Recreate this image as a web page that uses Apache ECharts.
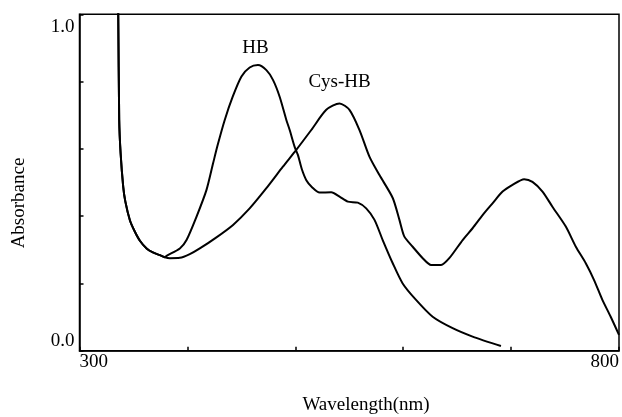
<!DOCTYPE html>
<html>
<head>
<meta charset="utf-8">
<script src="https://cdn.jsdelivr.net/npm/echarts@6/dist/echarts.min.js"></script>
<style>
html,body{margin:0;padding:0;background:#fff;}
#chart{width:622px;height:417px;}
</style>
</head>
<body>
<div id="chart"></div>
<script>
// Wavelength (nm) and absorbance values
const hbWave = [335.5,335.9,336.8,338.1,340.5,342.5,346.7,351.0,356.0,362.2,368.0,374.5,379.1,380.7,393.0,399.2,408.4,417.7,423.8,428.1,434.6,442.0,450.1,457.7,465.4,473.2,479.3,485.5,491.7,494.8,499.4,502.4,506.0,510.2,515.5,522.5,533.3,541.0,548.7,557.9,565.7,573.4,581.0,590.3,599.5,611.9,627.3,645.8,664.3,690.6];
const hbAbs  = [1.05,1.000,0.686,0.587,0.488,0.443,0.388,0.356,0.327,0.304,0.292,0.284,0.278,0.282,0.304,0.329,0.398,0.478,0.557,0.612,0.686,0.755,0.815,0.842,0.849,0.834,0.805,0.755,0.686,0.656,0.606,0.582,0.540,0.507,0.486,0.470,0.471,0.458,0.443,0.440,0.423,0.389,0.329,0.260,0.200,0.151,0.101,0.067,0.042,0.014];

const cysWave = [335.5,335.9,336.8,338.1,340.5,342.5,346.7,351.0,356.0,362.2,368.0,374.5,379.1,383.7,393.0,402.2,411.5,426.9,442.3,457.7,473.2,488.5,500.9,514.8,528.7,541.0,550.2,559.5,568.7,578.0,590.3,596.5,601.1,608.8,618.1,625.8,635.1,642.7,655.1,664.3,673.6,682.8,692.1,701.3,712.1,719.8,729.1,738.3,750.7,760.0,769.2,776.9,784.6,792.3,800.0];
const cysAbs  = [1.05,1.000,0.686,0.587,0.488,0.443,0.388,0.356,0.327,0.304,0.292,0.284,0.278,0.275,0.276,0.287,0.304,0.337,0.374,0.423,0.483,0.547,0.597,0.656,0.716,0.735,0.716,0.656,0.577,0.522,0.454,0.389,0.339,0.309,0.275,0.255,0.255,0.275,0.329,0.364,0.403,0.438,0.473,0.493,0.510,0.502,0.473,0.428,0.369,0.309,0.260,0.210,0.151,0.101,0.047];

// Curve labels
const seriesNames = ['HB', 'Cys-HB'];
const labelWave = [463, 541];
const labelAbs = [0.899, 0.80];

// Axis settings
const xMin = 300, xMax = 800, xStep = 100;
const yMin = 0, yMax = 1, yStep = 0.2;
const xTitle = 'Wavelength(nm)';
const yTitle = 'Absorbance';

const zip = (a, b) => a.map((v, i) => [v, b[i]]);
const FONT = '"Liberation Serif", "DejaVu Serif", serif';

const chart = echarts.init(document.getElementById('chart'), null, {renderer: 'canvas'});

function makeSeries(name, wave, abs, idx) {
  return {
    type: 'line',
    name: name,
    data: zip(wave, abs),
    showSymbol: false,
    smooth: 0.25,
    clip: true,
    lineStyle: {color: '#000', width: 2},
    itemStyle: {color: '#000'},
    animation: false,
    markPoint: {
      symbol: 'circle',
      symbolSize: 1,
      itemStyle: {color: 'rgba(0,0,0,0)'},
      label: {
        show: true,
        position: 'inside',
        formatter: name,
        color: '#000',
        fontFamily: FONT,
        fontSize: 19
      },
      data: [{coord: [labelWave[idx], labelAbs[idx]]}]
    }
  };
}

chart.setOption({
  backgroundColor: '#fff',
  animation: false,
  grid: {
    left: 79.5, right: 2, top: 14.3, bottom: 66.3,
    show: true, borderColor: '#000', borderWidth: 1.5,
    backgroundColor: 'transparent'
  },
  xAxis: {
    type: 'value',
    min: xMin, max: xMax, interval: xStep,
    axisLine: {show: true, onZero: false, lineStyle: {color: '#000', width: 1.5}},
    axisTick: {show: true, inside: true, length: 4, lineStyle: {color: '#000', width: 1.5}},
    splitLine: {show: false},
    axisLabel: {
      show: true,
      margin: 2,
      color: '#000',
      fontFamily: FONT,
      fontSize: 19,
      alignMinLabel: 'left',
      alignMaxLabel: 'right',
      formatter: v => (v === xMin || v === xMax) ? String(v) : ''
    }
  },
  yAxis: {
    type: 'value',
    min: yMin, max: yMax, interval: yStep,
    axisLine: {show: true, onZero: false, lineStyle: {color: '#000', width: 1.5}},
    axisTick: {show: true, inside: true, length: 4, lineStyle: {color: '#000', width: 1.5}},
    splitLine: {show: false},
    axisLabel: {
      show: true,
      margin: 5,
      color: '#000',
      fontFamily: FONT,
      fontSize: 19,
      padding: [3, 0, 0, 0],
      verticalAlignMinLabel: 'bottom',
      verticalAlignMaxLabel: 'top',
      formatter: v => (Math.abs(v - yMin) < 1e-6 || Math.abs(v - yMax) < 1e-6) ? v.toFixed(1) : ''
    }
  },
  graphic: [
    {
      type: 'text',
      x: 366, y: 405,
      style: {text: xTitle, fill: '#000', font: '19px ' + FONT, textAlign: 'center', textVerticalAlign: 'middle'}
    },
    {
      type: 'text',
      x: 19, y: 203,
      rotation: Math.PI / 2,
      style: {text: yTitle, fill: '#000', font: '19px ' + FONT, textAlign: 'center', textVerticalAlign: 'middle'}
    }
  ],
  series: [
    makeSeries(seriesNames[0], hbWave, hbAbs, 0),
    makeSeries(seriesNames[1], cysWave, cysAbs, 1)
  ]
});
</script>
</body>
</html>
